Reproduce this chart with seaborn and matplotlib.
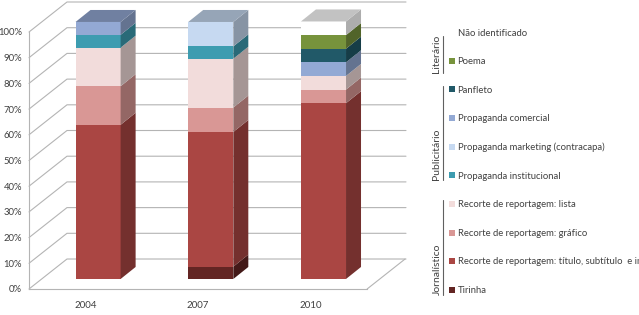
import matplotlib
matplotlib.use("Agg")
import matplotlib.pyplot as plt
import matplotlib.colors as mcolors
from matplotlib.patches import Patch, Polygon
from matplotlib.lines import Line2D
import numpy as np
import seaborn as sns

# Years on the x axis
YEARS = ["2004", "2007", "2010"]

# Share of each genre per year (%), stacked bottom to top
TIRINHA = [0.0, 4.8, 0.0]
RECORTE_TITULO = [60.0, 52.4, 68.4]
RECORTE_GRAFICO = [15.0, 9.5, 5.3]
RECORTE_LISTA = [15.0, 19.0, 5.3]
PROP_INSTITUCIONAL = [5.0, 4.8, 0.0]
PROP_MARKETING = [0.0, 9.5, 0.0]
PROP_COMERCIAL = [5.0, 0.0, 5.3]
PANFLETO = [0.0, 0.0, 5.3]
POEMA = [0.0, 0.0, 5.3]
NAO_IDENTIFICADO = [0.0, 0.0, 5.3]

LABELS = [
    "Tirinha",
    "Recorte de reportagem: título, subtítulo  e imagem",
    "Recorte de reportagem: gráfico",
    "Recorte de reportagem: lista",
    "Propaganda institucional",
    "Propaganda marketing (contracapa)",
    "Propaganda comercial",
    "Panfleto",
    "Poema",
    "Não identificado",
]
COLORS = ["#632523", "#AA4643", "#D99795", "#F2DCDB", "#3D9CB0",
          "#C6D9F1", "#93A9D4", "#215968", "#77933C", "#FFFFFF"]

SERIES = [TIRINHA, RECORTE_TITULO, RECORTE_GRAFICO, RECORTE_LISTA, PROP_INSTITUCIONAL,
          PROP_MARKETING, PROP_COMERCIAL, PANFLETO, POEMA, NAO_IDENTIFICADO]

# Fake 3D geometry (in data units)
BAR_W = 0.4
BAR_DX, BAR_DY = 0.113, 3.9      # bars sit a little behind the front plane
DEPTH_DX, DEPTH_DY = 0.133, 4.67  # depth of each bar
WALL_DX, WALL_DY = 0.337, 11.67   # back wall offset
GRID_COLOR = "#B4B4B4"
TEXT_COLOR = "#404040"


def shade(color, factor):
    r, g, b = mcolors.to_rgb(color)
    return (r * factor, g * factor, b * factor)


sns.set_style("white")
plt.rcParams["font.family"] = ["Lato", "DejaVu Sans"]

fig = plt.figure(figsize=(6.39, 3.15), dpi=100)
ax = fig.add_axes([29 / 639, 26 / 315, 377 / 639, 289 / 315])
xmax = -0.5 + 377 / 112.7
ax.set_xlim(-0.5, xmax)
ax.set_ylim(0, 112.45)

# back wall gridlines and floor
for v in range(0, 101, 10):
    ax.plot([-0.5, -0.5 + WALL_DX, xmax], [v, v + WALL_DY, v + WALL_DY],
            color=GRID_COLOR, lw=0.8, zorder=1, clip_on=False)
ax.plot([2.5, 2.5 + WALL_DX], [0, WALL_DY], color=GRID_COLOR, lw=0.8, zorder=1)

# stacked bars
x = np.arange(len(YEARS)) + BAR_DX
bottom = np.full(len(YEARS), BAR_DY)
top_patch = [None] * len(YEARS)
for vals, color, label in zip(SERIES, COLORS, LABELS):
    bars = ax.bar(x, vals, BAR_W, bottom=bottom, color=color, linewidth=0, zorder=3)
    for i, p in enumerate(bars.patches):
        if p.get_height() <= 0:
            continue
        x1 = p.get_x() + p.get_width()
        y0, y1 = p.get_y(), p.get_y() + p.get_height()
        side = Polygon([(x1, y0), (x1 + DEPTH_DX, y0 + DEPTH_DY),
                        (x1 + DEPTH_DX, y1 + DEPTH_DY), (x1, y1)],
                       closed=True, facecolor=shade(color, 0.68), lw=0, zorder=3)
        ax.add_patch(side)
        top_patch[i] = (p, color)
    bottom = bottom + np.array(vals)

for p, color in top_patch:
    x0 = p.get_x()
    x1 = x0 + p.get_width()
    y1 = p.get_y() + p.get_height()
    top = Polygon([(x0, y1), (x0 + DEPTH_DX, y1 + DEPTH_DY),
                   (x1 + DEPTH_DX, y1 + DEPTH_DY), (x1, y1)],
                  closed=True, facecolor=shade(color, 0.76), lw=0, zorder=3)
    ax.add_patch(top)

# axes
for s in ["top", "right"]:
    ax.spines[s].set_visible(False)
ax.spines["left"].set_bounds(0, 100)
ax.spines["bottom"].set_bounds(-0.5, 2.5)
for s in ["left", "bottom"]:
    ax.spines[s].set_color(GRID_COLOR)
    ax.spines[s].set_linewidth(0.8)

ax.set_yticks(range(0, 101, 10))
ax.set_yticklabels([f"{v}%" for v in range(0, 101, 10)])
ax.tick_params(axis="y", length=3, width=0.8, color=GRID_COLOR, pad=2,
               labelsize=6.8, labelcolor=TEXT_COLOR)
ax.set_xticks(range(len(YEARS)))
ax.set_xticklabels(YEARS)
ax.set_xticks([0.5, 1.5, 2.5], minor=True)
ax.tick_params(axis="x", which="major", length=0, pad=8.5, labelsize=7, labelcolor=TEXT_COLOR)
ax.tick_params(axis="x", which="minor", length=3, width=0.8, color=GRID_COLOR)

# legend, top entry first
handles = [Patch(facecolor=c, edgecolor="none") for c in COLORS[::-1]]
fig.legend(handles, LABELS[::-1], loc="upper left",
           bbox_to_anchor=(449 / 639, 1 - 28.5 / 315), bbox_transform=fig.transFigure,
           frameon=False, fontsize=6.8, handlelength=0.6, handleheight=0.6,
           handletextpad=0.3, labelspacing=2.07, borderpad=0, borderaxespad=0,
           labelcolor=TEXT_COLOR)

# group labels with their brackets
groups = [("Literário", 36, 73), ("Publicitário", 86, 180), ("Jornalístico", 200, 295)]
for name, ytop, ybot in groups:
    fig.text(437 / 639, 1 - ybot / 315, name, rotation=90, ha="center", va="bottom",
             fontsize=7.5, color=TEXT_COLOR)
    fig.add_artist(Line2D([443 / 639, 443 / 639], [1 - ytop / 315, 1 - ybot / 315],
                          color="#606060", lw=0.8))

fig.savefig("out.png", dpi=100)
